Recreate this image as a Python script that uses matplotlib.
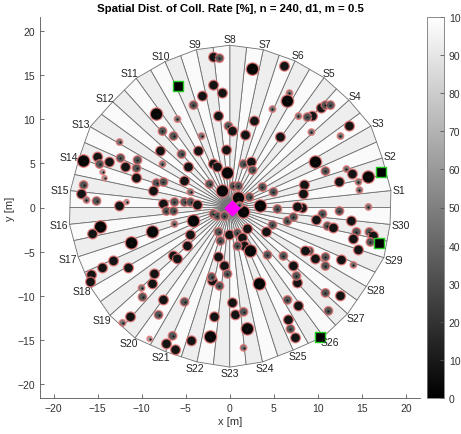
import numpy as np
import matplotlib
matplotlib.use("Agg")
import matplotlib.pyplot as plt
from matplotlib.collections import PolyCollection
from matplotlib.colors import Normalize

plt.rcParams['font.family'] = ['Liberation Sans', 'DejaVu Sans']

# ---- sectors -------------------------------------------------------------
sector_names = [f"S{k}" for k in range(1, 31)]
# angle of each sector's outer vertex [deg]
sector_angle = [6 + 12 * k for k in range(30)]
# outer vertex radius of each sector [m]
sector_radius = [18.4, 18.2, 18.5, 18.2, 18.2, 18.2, 18.3, 18.4, 18.3, 18.1,
                 18.1, 17.9, 18.3, 18.0, 18.2, 18.3, 18.1, 18.2, 18.3, 18.3,
                 17.9, 17.9, 18.1, 17.9, 17.7, 18.1, 18.0, 17.9, 18.4, 18.3]
# collision rate of the half-wedge clockwise / counter-clockwise of each vertex [%]
rate_cw = [93, 93, 93, 93, 93, 93, 93, 93, 93, 93,
           93, 93, 93, 93, 93, 93, 93, 93, 93, 93,
           93, 93, 93, 93, 93, 93, 93, 93, 93, 93]
rate_ccw = [98, 98, 98, 98, 98, 98, 98, 98, 98, 98,
            98, 98, 98, 98, 98, 98, 98, 98, 98, 98,
            98, 98, 98, 98, 98, 98, 98, 98, 98, 98]

# ---- nodes ---------------------------------------------------------------
node_x = [-1.84, -1.17, 2.58, 6.21, -1.84, -0.83, -3.10, -4.12, -1.28, -5.94,
          -8.32, 6.78, 6.55, 4.85, 2.80, -0.15, 0.31, 1.78, 5.75, 10.40,
          10.86, 11.43, 9.39, 8.82, 7.80, 13.59, 12.57, 9.27, -7.64, -6.39,
          -3.21, -12.52, -16.60, -15.00, -14.78, -13.66, -12.41, -11.83, -10.59, -10.48,
          -10.59, -14.45, -14.22, -16.60, -16.83, -16.27, -15.13, -12.52, -11.72, -14.68,
          -15.58, -11.16, -13.20, -14.45, -11.50, -15.70, -15.81, -10.02, -8.77, -9.91,
          -7.53, -5.14, -11.27, -12.18, -8.09, -9.11, -6.50, -7.19, -6.16, -4.35,
          -1.74, -2.19, -1.96, -1.17, 3.37, 7.69, 0.31, 0.65, 1.56, 2.01,
          1.56, 6.55, 7.80, 6.66, 6.89, 7.46, 10.86, 12.57, 11.20, 9.73,
          10.86, 13.25, 13.93, 15.74, 8.48, 12.45, 14.61, 14.72, 8.37, 15.74,
          8.25, 10.52, 12.45, 9.84, 13.81, 11.09, 11.77, 14.38, 15.85, 16.31,
          14.04, 15.97, 14.61, 9.05, 9.73, 10.86, 12.68, 14.04, 10.86, -7.87,
          -5.48, -3.55, -0.37, -7.64, -4.69, -1.85, -1.40, -0.26, 1.56, 2.46,
          2.58, -0.83, 0.42, 0.99, 0.99, 2.24, 3.71, 4.96, -5.14, -8.32,
          -7.53, -4.46, -2.30, -8.66, -7.53, -6.28, -5.14, -4.46, -3.67, -7.19,
          -6.39, -1.85, -1.40, -0.60, 1.56, 1.10, 3.48, 5.41, 7.69, 6.55,
          7.23, -4.12, -6.28, -1.28, -0.03, 0.87, 2.01, 4.17, 4.85, -4.46,
          -8.77, 1.44, 1.67, 0.87, 2.35, -4.80, -1.06, 4.28, -6.39, -5.94,
          -1.28, -0.60, -0.26, 6.09, 7.23, 8.59, 7.57, -2.07, -8.55]
node_y = [17.04, 16.93, 15.69, 16.02, 13.87, 12.97, 12.63, 11.61, 10.36, 10.02,
          10.59, 12.97, 12.06, 11.16, 9.80, 9.23, 8.66, 8.21, 7.98, 11.27,
          11.61, 11.61, 10.36, 10.25, 10.36, 9.23, 8.10, 8.55, 8.66, 8.10,
          8.10, 7.42, 5.27, 5.72, 4.93, 5.15, 5.61, 4.59, 4.47, 5.38,
          3.34, 4.02, 3.34, 2.55, 1.53, 0.85, 0.74, 0.17, 0.62, -2.21,
          -3.00, -4.02, -6.06, -6.85, -6.85, -7.64, -8.44, -9.12, -8.66, -10.14,
          -10.48, -10.70, -12.40, -13.08, -12.17, -14.89, -14.55, -15.46, -16.14, -15.12,
          -12.40, -14.67, -8.32, -8.89, -8.66, -8.55, -10.81, -12.17, -11.83, -13.76,
          -15.91, -10.48, -11.16, -12.74, -13.76, -14.78, -9.68, -10.02, -11.72, 5.15,
          4.13, 4.36, 3.79, 3.45, 2.55, 2.89, 2.89, 1.98, 1.53, 0.06,
          -0.06, -0.74, -0.40, -1.42, -1.53, -2.10, -2.32, -2.77, -2.77, -3.23,
          -3.57, -3.91, -4.81, -4.93, -5.83, -5.61, -5.95, -6.51, -6.63, 6.40,
          6.06, 6.40, 6.51, 4.93, 4.59, 4.93, 4.59, 3.91, 4.93, 5.15,
          4.25, 1.87, 2.43, 2.43, 1.08, 1.19, 2.32, 1.76, 3.00, 2.77,
          2.89, 1.76, 2.66, 1.87, 0.40, 0.62, 0.62, 0.62, 0.28, -0.40,
          -0.40, -0.74, -0.96, -0.96, -0.51, 0.28, 0.17, -0.17, 0.06, -1.53,
          -1.08, -1.53, -1.87, -2.77, -3.11, -2.89, -2.43, -2.77, -1.98, -3.11,
          -2.77, -3.45, -4.36, -4.36, -4.93, -4.36, -3.79, -5.38, -5.49, -5.83,
          -5.61, -6.63, -7.53, -5.49, -6.63, -4.93, -7.76, -7.87, -7.53]
# node class: L large/dark, D dark, G grey, S small grey, P small light
node_kind = list("".join([
    "DGLDDDDGDS", "LSLSDGDDDD", "GGDGSDSSGG", "SSLDGDGDGG", "DPPGDSGDPL",
    "DLDDDDDSDG", "DGDSGPGDDD", "DLDGLDDDGL", "SGDDGDGDGL", "GSDLDDSSDS",
    "DGGDDGDGGD", "DGDGDGDSGD", "GDDSDDDLGD", "GLGGLGGGDG", "GSGDDGGGDG",
    "GGGGLSLGDG", "GLSGDGDDGD", "LDDGLDGGDD", "DDGGDDGGD"]))

kind_rate = {'L': 3, 'D': 8, 'G': 33, 'S': 45, 'P': 62}
kind_size = {'L': 80, 'D': 50, 'G': 38, 'S': 22, 'P': 14}

# special positions
anchor_x = [-5.9, 17.2, 17.0, 10.2]
anchor_y = [13.8, 4.0, -4.0, -14.7]
centre_x, centre_y = [0.2], [0.0]

# ---- figure --------------------------------------------------------------
fig = plt.figure(figsize=(4.61, 4.35), dpi=100)
ax = fig.add_axes([40 / 461, 36 / 435, 380 / 461, 381 / 435])
cax = fig.add_axes([427 / 461, 36 / 435, 17 / 461, 381 / 435])

cmap = plt.get_cmap('gray')
norm = Normalize(0, 100)

th = np.deg2rad(sector_angle)
R = np.array(sector_radius)
V = np.column_stack([R * np.cos(th), R * np.sin(th)])
M = 0.5 * (V + np.roll(V, -1, axis=0))      # midpoint between neighbouring vertices

polys, vals = [], []
for k in range(30):
    polys.append([(0, 0), tuple(M[k - 1]), tuple(V[k])])
    vals.append(rate_cw[k])
    polys.append([(0, 0), tuple(V[k]), tuple(M[k])])
    vals.append(rate_ccw[k])
pc = PolyCollection(polys, array=np.array(vals, float), cmap=cmap, norm=norm,
                    edgecolors='#707070', linewidths=0.6, zorder=1)
ax.add_collection(pc)

for k in range(30):
    c, s = np.cos(th[k]), np.sin(th[k])
    hw = 0.32 * len(sector_names[k])
    px = V[k, 0] + 0.25 * c + hw * c
    py = V[k, 1] + 0.25 * s + 0.45 * s
    ax.text(px, py, sector_names[k], ha='center', va='center', fontsize=7.5,
            color='#222222', zorder=5)

rates = np.array([kind_rate[c] for c in node_kind], float)
sizes = np.array([kind_size[c] for c in node_kind], float)
ax.scatter(node_x, node_y, s=sizes, c=rates, cmap=cmap, norm=norm,
           edgecolors=(0.90, 0.45, 0.45, 0.8), linewidths=1.0, zorder=3)
ax.scatter(node_x, node_y, s=2.5, c='#151515', linewidths=0, zorder=4)

ax.scatter(anchor_x, anchor_y, marker='s', s=42, c='black',
           edgecolors='#22cc22', linewidths=1.0, zorder=4)
ax.scatter(centre_x, centre_y, marker='D', s=55, c='#ff00ff',
           edgecolors='#ff00ff', zorder=6)

ax.set_xlim(-21.55, 21.6)
ax.set_ylim(-21.6, 21.6)
ax.set_xticks(np.arange(-20, 21, 5))
ax.set_yticks(np.arange(-20, 21, 5))
for side in ('top', 'right'):
    ax.spines[side].set_visible(False)
for side in ('left', 'bottom'):
    ax.spines[side].set_color('#555555')
    ax.spines[side].set_linewidth(0.6)
ax.tick_params(direction='in', length=3, width=0.6, colors='#555555',
               labelsize=7.5, labelcolor='#333333')
ax.set_xlabel('x [m]', fontsize=8, color='#333333', labelpad=2)
ax.set_ylabel('y [m]', fontsize=8, color='#333333', labelpad=2)
ax.set_title('Spatial Dist. of Coll. Rate [%], n = 240, d1, m = 0.5',
             fontsize=8.2, fontweight='bold', pad=4)

cb = fig.colorbar(plt.cm.ScalarMappable(norm=norm, cmap=cmap), cax=cax)
cb.set_ticks(np.arange(0, 101, 10))
cb.ax.tick_params(direction='in', length=3, width=0.6, labelsize=7.5,
                  colors='#555555', labelcolor='#333333')
cb.outline.set_linewidth(0.6)
cb.outline.set_edgecolor('#777777')

fig.savefig('out.png', dpi=100)
